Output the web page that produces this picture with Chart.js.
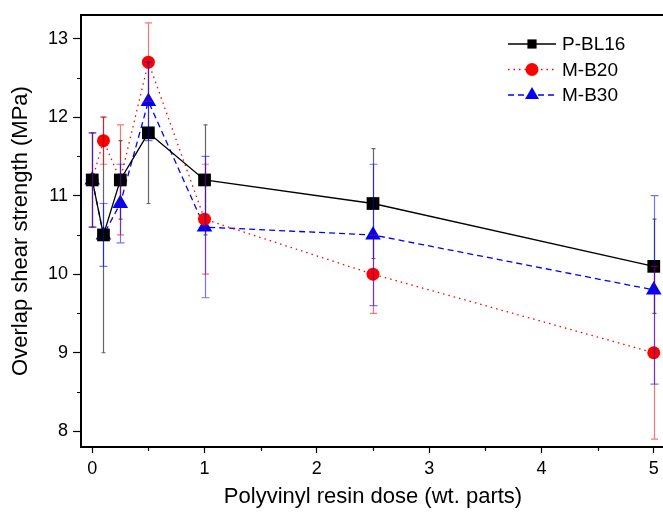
<!DOCTYPE html>
<html>
<head>
<meta charset="utf-8">
<script src="https://cdn.jsdelivr.net/npm/chart.js@4"></script>
<style>
html, body { margin: 0; padding: 0; overflow: hidden; background: #fff; }
canvas { display: block; }
</style>
</head>
<body>
<canvas id="chart" width="667" height="514"></canvas>
<script>
const doses = [0, 0.1, 0.25, 0.5, 1, 2.5, 5];
const pbl16 = [11.2, 10.5, 11.2, 11.8, 11.2, 10.9, 10.1];
const pbl16Err = [0.6, 1.5, 0.5, 0.9, 0.7, 0.7, 0.6];
const mb20 = [11.2, 11.7, 11.2, 12.7, 10.7, 10.0, 9.0];
const mb20Err = [0.6, 0.3, 0.7, 0.5, 0.7, 0.5, 1.1];
const mb30 = [11.2, 10.5, 10.9, 12.2, 10.6, 10.5, 9.8];
const mb30Err = [0.6, 0.4, 0.5, 0.5, 0.9, 0.9, 1.2];

const xTicks = [0, 0.5, 1, 1.5, 2, 2.5, 3, 3.5, 4, 4.5, 5];
const yTicks = [8, 8.5, 9, 9.5, 10, 10.5, 11, 11.5, 12, 12.5, 13];

const FONT = "'Liberation Sans', Arial, sans-serif";

function points(ys) {
	return doses.map((x, i) => ({ x, y: ys[i] }));
}

const data = {
	datasets: [
		{
			label: "P-BL16",
			data: points(pbl16),
			err: pbl16Err,
			errColor: "rgba(0, 0, 0, 0.6)",
			cap: 2,
			borderColor: "#000",
			backgroundColor: "#000",
			borderWidth: 1.3,
			pointStyle: "rect",
			pointRadius: 9,
			pointBorderWidth: 0,
		},
		{
			label: "M-B20",
			data: points(mb20),
			err: mb20Err,
			errColor: "rgba(255, 0, 0, 0.55)",
			cap: 3.5,
			borderColor: "#f00",
			backgroundColor: "#f00",
			borderWidth: 1.3,
			borderDash: [1.5, 4],
			pointStyle: "circle",
			pointRadius: 6.5,
			pointBorderWidth: 0,
		},
		{
			label: "M-B30",
			data: points(mb30),
			err: mb30Err,
			errColor: "rgba(0, 0, 255, 0.55)",
			cap: 4,
			borderColor: "#00f",
			backgroundColor: "#00f",
			borderWidth: 1.3,
			borderDash: [6, 4],
			pointStyle: "triangle",
			pointRadius: 9,
			pointBorderWidth: 0,
		},
	],
};

// error bars, box, minor ticks and legend
const extras = {
	id: "extras",
	afterDatasetsDraw(chart) {
		const { ctx, chartArea } = chart;
		const xs = chart.scales.x;
		const ys = chart.scales.y;
		ctx.save();
		chart.data.datasets.forEach((ds) => {
			ctx.strokeStyle = ds.errColor;
			ctx.lineWidth = 1.2;
			ds.data.forEach((p, i) => {
				const px = Math.round(xs.getPixelForValue(p.x)) + 0.5;
				const top = ys.getPixelForValue(p.y + ds.err[i]);
				const bot = ys.getPixelForValue(p.y - ds.err[i]);
				ctx.beginPath();
				ctx.moveTo(px, top);
				ctx.lineTo(px, bot);
				ctx.moveTo(px - ds.cap, top);
				ctx.lineTo(px + ds.cap, top);
				ctx.moveTo(px - ds.cap, bot);
				ctx.lineTo(px + ds.cap, bot);
				ctx.stroke();
			});
		});

		// frame
		ctx.strokeStyle = "#000";
		ctx.lineWidth = 2;
		ctx.strokeRect(chartArea.left, chartArea.top, chartArea.right - chartArea.left, chartArea.bottom - chartArea.top);

		// minor ticks
		ctx.lineWidth = 1.2;
		ctx.beginPath();
		xTicks.filter((v) => !Number.isInteger(v)).forEach((v) => {
			const px = Math.round(xs.getPixelForValue(v)) + 0.5;
			ctx.moveTo(px, chartArea.bottom);
			ctx.lineTo(px, chartArea.bottom + 4);
		});
		yTicks.filter((v) => !Number.isInteger(v)).forEach((v) => {
			const py = Math.round(ys.getPixelForValue(v)) + 0.5;
			ctx.moveTo(chartArea.left, py);
			ctx.lineTo(chartArea.left - 4, py);
		});
		ctx.stroke();

		// legend
		ctx.font = "19px " + FONT;
		ctx.textBaseline = "middle";
		chart.data.datasets.forEach((ds, i) => {
			const y = 44 + i * 25.5;
			ctx.strokeStyle = ds.borderColor;
			ctx.lineWidth = ds.borderWidth;
			ctx.setLineDash(ds.borderDash || []);
			ctx.beginPath();
			ctx.moveTo(508, y);
			ctx.lineTo(556, y);
			ctx.stroke();
			ctx.setLineDash([]);
			ctx.fillStyle = ds.backgroundColor;
			const r = ds.pointStyle === "rect" ? 6.5 : ds.pointStyle === "circle" ? 6.5 : 8;
			Chart.helpers.drawPoint(ctx, { pointStyle: ds.pointStyle, radius: r, borderWidth: 0 }, 532, y);
			ctx.fillStyle = "#000";
			ctx.fillText(ds.label, 562, y + 1);
		});
		ctx.restore();
	},
};

const tickLabel = (v) => (Number.isInteger(v) ? v : "");
const majorColor = (c) => (c.tick && Number.isInteger(c.tick.value) ? "#000" : "rgba(0,0,0,0)");

const options = {
	responsive: false,
	animation: false,
	layout: {
		autoPadding: false,
		padding: { top: 15, right: 2, left: 0, bottom: 0 },
	},
	plugins: {
		legend: { display: false },
		tooltip: { enabled: false },
	},
	scales: {
		x: {
			type: "linear",
			min: -0.1,
			max: 5.1,
			afterBuildTicks(scale) {
				scale.ticks = xTicks.map((value) => ({ value }));
			},
			afterFit(scale) {
				scale.height = 67;
				scale.paddingLeft = 0;
				scale.paddingRight = 0;
			},
			ticks: {
				autoSkip: false,
				maxRotation: 0,
				padding: 5,
				color: "#000",
				font: { family: FONT, size: 18 },
				callback: tickLabel,
			},
			grid: {
				drawOnChartArea: false,
				tickLength: 6,
				tickWidth: 1.2,
				tickColor: majorColor,
			},
			border: { color: "#000", width: 2 },
			title: {
				display: true,
				text: "Polyvinyl resin dose (wt. parts)",
				color: "#000",
				font: { family: FONT, size: 22 },
				padding: { top: 0, bottom: 4 },
			},
		},
		y: {
			min: 7.8,
			max: 13.3,
			afterBuildTicks(scale) {
				scale.ticks = yTicks.map((value) => ({ value }));
			},
			afterFit(scale) {
				scale.width = 81;
				scale.paddingTop = 0;
				scale.paddingBottom = 0;
			},
			ticks: {
				autoSkip: false,
				padding: 5,
				color: "#000",
				font: { family: FONT, size: 18 },
				callback: tickLabel,
			},
			grid: {
				drawOnChartArea: false,
				tickLength: 8,
				tickWidth: 1.2,
				tickColor: majorColor,
			},
			border: { color: "#000", width: 2 },
			title: {
				display: true,
				text: "Overlap shear strength (MPa)",
				color: "#000",
				font: { family: FONT, size: 22 },
				padding: { top: 8, bottom: 0 },
			},
		},
	},
};

new Chart(document.querySelector("#chart"), {
	type: "line",
	data,
	options,
	plugins: [extras],
});
</script>
</body>
</html>
